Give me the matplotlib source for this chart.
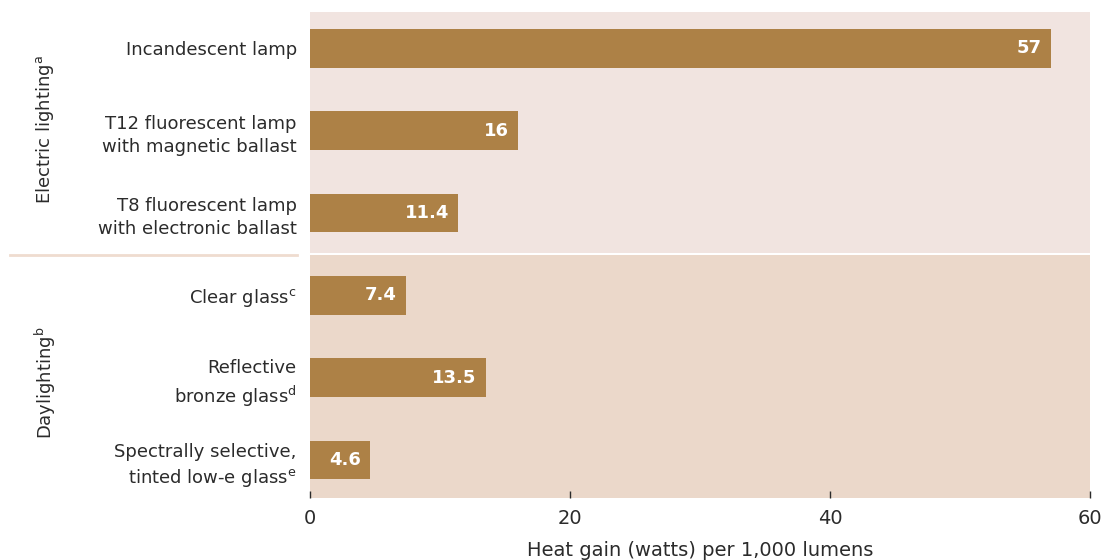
import matplotlib
matplotlib.use("Agg")
import matplotlib.pyplot as plt
from matplotlib.lines import Line2D

categories = [
    "Incandescent lamp",
    "T12 fluorescent lamp\nwith magnetic ballast",
    "T8 fluorescent lamp\nwith electronic ballast",
    r"Clear glass$\mathregular{^c}$",
    "Reflective\n" + r"bronze glass$\mathregular{^d}$",
    "Spectrally selective,\n" + r"tinted low-e glass$\mathregular{^e}$",
]
values = [57, 16, 11.4, 7.4, 13.5, 4.6]
value_labels = ["57", "16", "11.4", "7.4", "13.5", "4.6"]
groups = [r"Electric lighting$\mathregular{^a}$", r"Daylighting$\mathregular{^b}$"]
group_sizes = [3, 3]
xticks = [0, 20, 40, 60]
xlabel = "Heat gain (watts) per 1,000 lumens"

FONT = ["Liberation Sans Narrow", "DejaVu Sans"]
plt.rcParams["font.family"] = FONT

TEXT = "#2b2b2b"
BAR = "#ad8146"
BG1 = "#f1e4e0"
BG2 = "#ebd8ca"

W, H = 1107, 560
fig = plt.figure(figsize=(W / 100, H / 100), dpi=100)
left, right, top, bottom = 310, 1090, 12, 498
ax = fig.add_axes([left / W, 1 - bottom / H, (right - left) / W, (bottom - top) / H])

n = len(values)
ypos = list(range(n))
ax.set_ylim(n - 1 + 0.46, -0.44)
ax.set_xlim(0, 60)

# backgrounds
split = group_sizes[0] - 0.5
ax.axhspan(-0.44, split - 0.012, color=BG1, lw=0, zorder=0)
ax.axhspan(split + 0.012, n - 1 + 0.46, color=BG2, lw=0, zorder=0)

ax.barh(ypos, values, height=0.47, color=BAR, zorder=2)
for y, v, lab in zip(ypos, values, value_labels):
    ax.text(v - 0.7, y, lab, ha="right", va="center", color="white",
            fontsize=13, fontweight="bold", zorder=3)

for s in ax.spines.values():
    s.set_visible(False)

ax.set_yticks(ypos)
ax.set_yticklabels(categories, fontsize=13, color=TEXT, linespacing=1.35)
ax.tick_params(axis="y", length=0, pad=9.5)
ax.set_xticks(xticks)
ax.set_xticklabels([str(t) for t in xticks], fontsize=14, color=TEXT)
ax.tick_params(axis="x", direction="in", length=5, width=1, color=TEXT, pad=8)
ax.set_xlabel(xlabel, fontsize=14, color=TEXT, labelpad=9)

# group labels
fig.text(45 / W, 1 - 130 / H, groups[0], rotation=90, ha="center", va="center",
         fontsize=13, color=TEXT)
fig.text(45 / W, 1 - 383 / H, groups[1], rotation=90, ha="center", va="center",
         fontsize=13, color=TEXT)

# separator line
fig.add_artist(Line2D([10 / W, 297 / W], [1 - 255 / H, 1 - 255 / H],
                      transform=fig.transFigure, color="#efdccf", lw=2))

fig.savefig("out.png", dpi=100)
